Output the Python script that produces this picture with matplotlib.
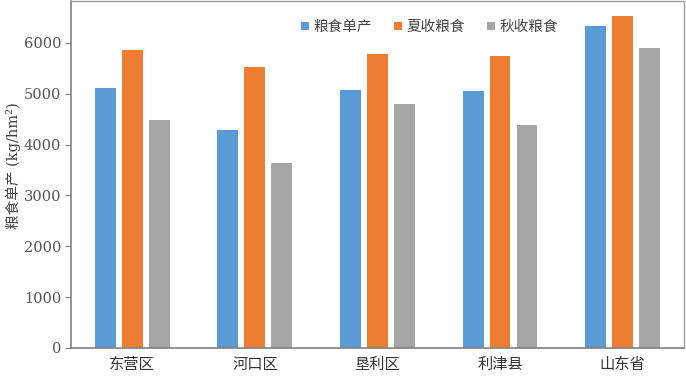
import matplotlib.pyplot as plt
import numpy as np

plt.rcParams['font.family'] = ['DejaVu Serif', 'Noto Sans CJK SC']

regions = ["东营区", "河口区", "垦利区", "利津县", "山东省"]
grain = [5120, 4290, 5080, 5060, 6330]
summer = [5860, 5530, 5780, 5750, 6530]
autumn = [4490, 3630, 4800, 4390, 5900]

fig = plt.figure(figsize=(6.86, 3.77), dpi=100)
ax = fig.add_axes([0.1035, 0.077, 0.8935, 0.92])

x = np.arange(len(regions))
w = 0.17
step = 0.22
ax.bar(x - step, grain, w, color='#5B9BD5', label='粮食单产')
ax.bar(x, summer, w, color='#ED7D31', label='夏收粮食')
ax.bar(x + step, autumn, w, color='#A5A5A5', label='秋收粮食')

ax.set_xlim(-0.5, 4.5)
ax.set_ylim(0, 6820)
ax.set_yticks(range(0, 7000, 1000))
ax.set_xticks(x)
ax.set_xticklabels(regions, family=['Noto Sans CJK SC'], fontsize=11, color='#333333')
ax.tick_params(axis='x', length=0, pad=6)
ax.tick_params(axis='y', length=4, color='#808080', labelsize=10.5, labelcolor='#555555', pad=3)

for s in ['left', 'bottom']:
    ax.spines[s].set_color('#808080')
    ax.spines[s].set_linewidth(1.2)
for s in ['top', 'right']:
    ax.spines[s].set_color('#a0a0a0')
    ax.spines[s].set_linewidth(1.0)

fig.text(13 / 686, 0.56, '粮食单产 (kg/hm²)', rotation=90, ha='center', va='center',
         family=['DejaVu Serif', 'Noto Sans CJK SC'], fontsize=10.5, color='#444444')

leg = ax.legend(loc='center', bbox_to_anchor=(0.585, 0.925), ncol=3, frameon=False,
                prop={'family': 'Noto Sans CJK SC', 'size': 10.5},
                handlelength=0.55, handleheight=0.55, handletextpad=0.3, columnspacing=1.5)
for t in leg.get_texts():
    t.set_color('#444444')

fig.savefig('out.png', dpi=100)
